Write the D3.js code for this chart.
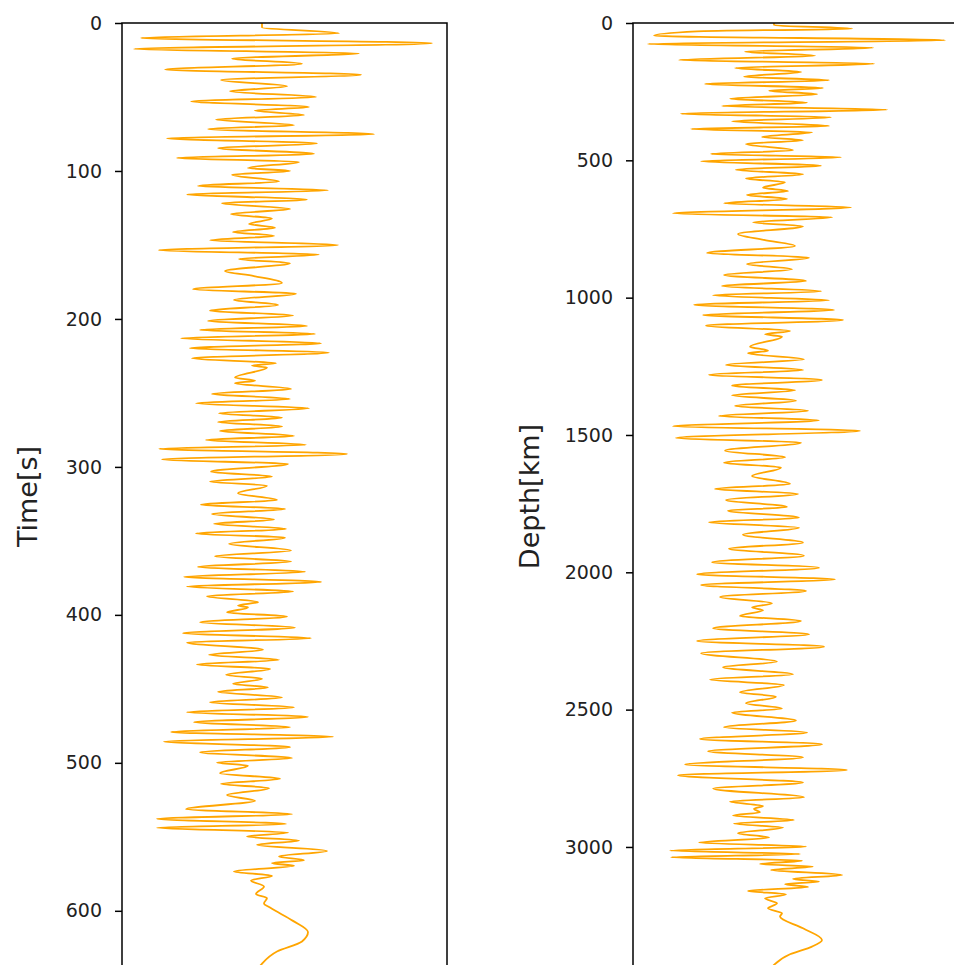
<!DOCTYPE html>
<html lang="en">
<head>
    <meta charset="UTF-8">
    <title>Trace</title>
    <script src="https://cdn.jsdelivr.net/npm/d3@7"></script>
    <style>
        body { margin: 0; background: #fff; }
        svg { display: block; }
        .tick text { font-family: "DejaVu Sans", sans-serif; font-size: 19px; fill: #222; }
        .lbl { font-family: "DejaVu Sans", sans-serif; font-size: 27px; fill: #222; }
    </style>
</head>
<body>
<div id="chart"></div>
<script>
    // time trace (s) and amplitude
    var timeS = [0, 3, 7.0, 10.1, 13.7, 17.6, 20.5, 24.1, 27.5, 31.5, 34.9, 38.5, 42.8, 46.2, 50.0, 52.9, 56.8, 59.2, 62.2, 65.3,
        69.1, 71.6, 75.2, 77.9, 81.5, 84.5, 88.5, 91.2, 93.9, 98.0, 100.0, 102.5, 107.2, 110.1, 113.1, 115.8, 119.4, 121.8, 125.7, 129.1,
        132.2, 135.8, 138.3, 141.2, 143.9, 146.8, 150.0, 153.6, 156.5, 159.5, 162.4, 167.6, 171.0, 175.7, 180.0, 182.9, 187.2, 190.5, 194.4, 197.7,
        201.4, 204.7, 207.4, 210.1, 213.1, 216.4, 219.8, 222.7, 226.6, 230.0, 231.5, 232.9, 239.6, 241.7, 243.5, 247.3, 250.7, 254.1, 257.0, 260.4,
        263.7, 266.7, 269.6, 272.7, 275.7, 279.1, 281.8, 285.1, 287.8, 291.2, 295.0, 298.0, 303.2, 306.5, 309.9, 312.7, 317.8, 322.3, 325.5, 328.4,
        331.8, 335.6, 338.5, 341.9, 345.0, 347.8, 352.0, 356.5, 360.4, 364.0, 367.6, 370.9, 374.3, 377.7, 380.9, 384.2, 387.4, 391.4, 393.7, 395.0,
        398.4, 401.1, 405.0, 408.6, 412.4, 415.8, 418.6, 423.6, 427.0, 430.4, 433.6, 436.5, 440.5, 443.2, 446.6, 449.1, 452.0, 455.9, 459.0, 462.6,
        465.8, 468.9, 472.5, 475.9, 479.1, 482.4, 485.6, 489.4, 492.8, 496.8, 499.8, 502.0, 507.0, 510.8, 514.2, 517.1, 521.8, 525.7, 531.3, 534.7,
        537.8, 541.4, 543.9, 547.1, 549.8, 552.5, 555.4, 559.5, 563.3, 565.8, 567.8, 569.6, 573.4, 576.4, 579.5, 583.6, 588.7, 591.4, 595.0, 597.8,
        606.8, 614.4, 620.7, 627.5, 636.5, 640];
    var timeAmp = [0, 0, 0.77, -1.21, 1.70, -1.28, 0.97, -0.30, 0.40, -0.97, 0.99, -0.41, 0.25, -0.32, 0.54, -0.71, 0.47, -0.07, 0.42, -0.46,
        0.32, -0.54, 1.12, -0.95, 0.55, -0.44, 0.52, -0.85, 0.37, -0.14, 0.28, -0.30, 0.17, -0.64, 0.66, -0.75, 0.45, -0.40, 0.28, -0.31,
        0.10, -0.13, 0.13, -0.29, 0.12, -0.52, 0.76, -1.03, 0.57, -0.23, 0.28, -0.37, -0.08, 0.20, -0.69, 0.34, -0.28, 0.16, -0.52, 0.31,
        -0.54, 0.45, -0.62, 0.53, -0.81, 0.59, -0.72, 0.67, -0.70, 0.14, -0.10, 0.05, -0.27, -0.07, -0.27, 0.29, -0.50, 0.28, -0.66, 0.47,
        -0.43, 0.20, -0.44, 0.20, -0.42, 0.32, -0.56, 0.44, -1.03, 0.85, -1.00, 0.26, -0.51, 0.10, -0.52, 0.05, -0.24, 0.15, -0.61, 0.23,
        -0.50, 0.12, -0.48, 0.24, -0.66, 0.23, -0.33, 0.29, -0.47, 0.29, -0.64, 0.43, -0.78, 0.59, -0.75, 0.31, -0.55, -0.04, -0.24, -0.14,
        -0.35, 0.25, -0.62, 0.33, -0.79, 0.49, -0.75, 0.01, -0.53, 0.17, -0.65, 0.08, -0.36, 0.00, -0.29, 0.06, -0.44, 0.20, -0.52, 0.32,
        -0.75, 0.46, -0.68, 0.28, -0.91, 0.71, -0.98, 0.28, -0.62, 0.30, -0.45, -0.14, -0.42, 0.18, -0.41, 0.07, -0.35, -0.07, -0.76, 0.30,
        -1.05, 0.24, -1.05, 0.26, -0.15, 0.37, -0.05, 0.65, 0.17, 0.42, 0.10, 0.32, -0.28, 0.10, -0.11, 0.02, -0.06, 0.05, 0.02, 0.08,
        0.31, 0.46, 0.40, 0.15, -0.01, -0.05];

    // depth trace (km) and amplitude
    var depthKm = [0, 8, 20.6, 30.3, 46.1, 63.1, 76.5, 89.8, 104.4, 118.9, 134.7, 148.1, 163.8, 178.4, 195.4, 208.7, 222.1, 236.6, 246.4, 259.7,
        275.5, 290.1, 302.2, 315.5, 330.1, 343.4, 358.0, 375.0, 385.9, 398.1, 415.0, 427.2, 440.5, 463.6, 476.9, 489.1, 503.6, 519.4, 534.0, 551.0,
        566.0, 580.1, 599.5, 611.6, 626.2, 640.8, 656.5, 671.1, 693.0, 707.5, 725.7, 740.3, 768.2, 790, 811.9, 837.4, 854.4, 877.4, 896.8, 917.5,
        939.3, 957.5, 976.9, 991.5, 1009.7, 1025.5, 1044.9, 1063.1, 1081.3, 1101.9, 1121.3, 1133.5, 1142.0, 1178.4, 1193.0, 1202.7, 1224.5, 1245.1, 1263.3, 1280.3,
        1299.7, 1320.4, 1337.4, 1355.6, 1375.0, 1394.4, 1411.4, 1430.8, 1446.6, 1468.4, 1484.2, 1510.9, 1527.9, 1557.0, 1581.3, 1600.7, 1618.9, 1649.3, 1678.4, 1696.6,
        1714.8, 1736.6, 1762.1, 1775.5, 1801.0, 1817.9, 1837.4, 1862.9, 1892.0, 1913.8, 1939.3, 1963.6, 1983.0, 2007.3, 2025.5, 2046.1, 2067.9, 2089.8, 2112.8, 2127.4,
        2138.3, 2159.0, 2177.2, 2203.9, 2225.7, 2250.0, 2270.6, 2294.9, 2325.2, 2345.8, 2371.3, 2390.7, 2410.2, 2436.9, 2452.7, 2476.9, 2496.3, 2510.9, 2540.0, 2564.3,
        2583.7, 2606.8, 2626.2, 2651.7, 2673.5, 2700.2, 2719.6, 2739.0, 2765.7, 2787.6, 2819.1, 2834.9, 2850.7, 2861.6, 2873.8, 2885.9, 2901.7, 2915.0, 2929.6, 2950.2,
        2966.0, 2984.2, 2998.8, 3013.3, 3025.5, 3037.6, 3049.8, 3061.9, 3071.6, 3083.7, 3101.9, 3116.6, 3126.2, 3135.9, 3145.6, 3160.1, 3172.3, 3186.9, 3205.1, 3223.3,
        3241.5, 3253.6, 3296.1, 3338.6, 3362.9, 3390.8, 3429.6, 3448];
    var depthAmp = [0, 0, 0.78, -0.77, -1.20, 1.71, -1.26, 0.99, -0.29, 0.41, -0.95, 1.00, -0.39, 0.27, -0.30, 0.55, -0.69, 0.49, -0.05, 0.43,
        -0.44, 0.33, -0.52, 1.13, -0.93, 0.57, -0.42, 0.55, -0.83, 0.38, -0.12, 0.29, -0.28, 0.19, -0.63, 0.67, -0.73, 0.47, -0.38, 0.29,
        -0.28, 0.11, -0.11, 0.14, -0.27, 0.13, -0.50, 0.77, -1.01, 0.58, -0.21, 0.29, -0.36, -0.10, 0.21, -0.67, 0.35, -0.27, 0.18, -0.50,
        0.32, -0.52, 0.47, -0.61, 0.55, -0.80, 0.60, -0.71, 0.69, -0.68, 0.16, -0.09, 0.08, -0.24, -0.06, -0.26, 0.30, -0.48, 0.29, -0.65,
        0.48, -0.42, 0.21, -0.42, 0.22, -0.39, 0.34, -0.55, 0.45, -1.01, 0.86, -0.98, 0.27, -0.49, 0.11, -0.50, 0.07, -0.22, 0.16, -0.59,
        0.24, -0.48, 0.13, -0.46, 0.25, -0.65, 0.25, -0.31, 0.29, -0.45, 0.30, -0.62, 0.45, -0.77, 0.61, -0.73, 0.32, -0.54, -0.02, -0.22,
        -0.11, -0.34, 0.27, -0.61, 0.35, -0.77, 0.50, -0.73, 0.03, -0.51, 0.19, -0.64, 0.10, -0.34, 0.02, -0.28, 0.08, -0.42, 0.22, -0.50,
        0.33, -0.74, 0.48, -0.66, 0.29, -0.89, 0.73, -0.96, 0.29, -0.61, 0.30, -0.44, -0.11, -0.20, -0.14, -0.41, 0.20, -0.40, 0.09, -0.36,
        -0.05, -0.75, 0.32, -1.04, 0.26, -1.03, 0.28, -0.14, 0.39, -0.03, 0.68, 0.19, 0.45, 0.11, 0.34, -0.26, 0.12, -0.09, 0.03, -0.06,
        0.08, 0.06, 0.29, 0.48, 0.38, 0.16, 0.00, -0.04];

    var timeTicks = [0, 100, 200, 300, 400, 500, 600];
    var depthTicks = [0, 500, 1000, 1500, 2000, 2500, 3000];

    var width = 954, height = 965;
    var plotTop = 23, plotBottom = 970;

    var svg = d3.select('#chart').append('svg').attr('width', width).attr('height', height);

    function panel(id, left, right, ys, amps, yMax, ampDom, ticks, label, labelX) {
        var x = d3.scaleLinear().domain(ampDom).range([left, right]);
        var y = d3.scaleLinear().domain([0, yMax]).range([plotTop, plotBottom]);
        var g = svg.append('g');

        g.append('clipPath').attr('id', id).append('rect')
            .attr('x', left).attr('y', plotTop).attr('width', right - left).attr('height', plotBottom - plotTop);

        var line = d3.line()
            .x(function(d){ return x(d[1]); })
            .y(function(d){ return y(d[0]); })
            .curve(d3.curveMonotoneY);

        g.append('path').datum(d3.zip(ys, amps))
            .attr('clip-path', 'url(#' + id + ')')
            .attr('fill', 'none').attr('stroke', '#ffa500').attr('stroke-width', 1.8)
            .attr('d', line);

        var ax = g.append('g').attr('transform', 'translate(' + left + ',0)')
            .call(d3.axisLeft(y).tickValues(ticks).tickSize(7).tickPadding(13).tickFormat(d3.format('d')));
        ax.select('.domain').remove();
        ax.selectAll('.tick line').attr('stroke', '#000').attr('stroke-width', 1.5);

        // frame
        g.append('rect').attr('x', left).attr('y', plotTop).attr('width', right - left).attr('height', plotBottom - plotTop)
            .attr('fill', 'none').attr('stroke', '#000').attr('stroke-width', 1.5);

        g.append('text').attr('class', 'lbl')
            .attr('transform', 'translate(' + labelX + ',' + ((plotTop + plotBottom) / 2) + ') rotate(-90)')
            .attr('text-anchor', 'middle').attr('dy', '0.35em')
            .text(label);
    }

    panel('clipT', 122, 447, timeS, timeAmp, 640, [-1.4, 1.85], timeTicks, 'Time[s]', 28);
    panel('clipD', 633, 958, depthKm, depthAmp, 3448, [-1.41, 1.84], depthTicks, 'Depth[km]', 530);
</script>
</body>
</html>
